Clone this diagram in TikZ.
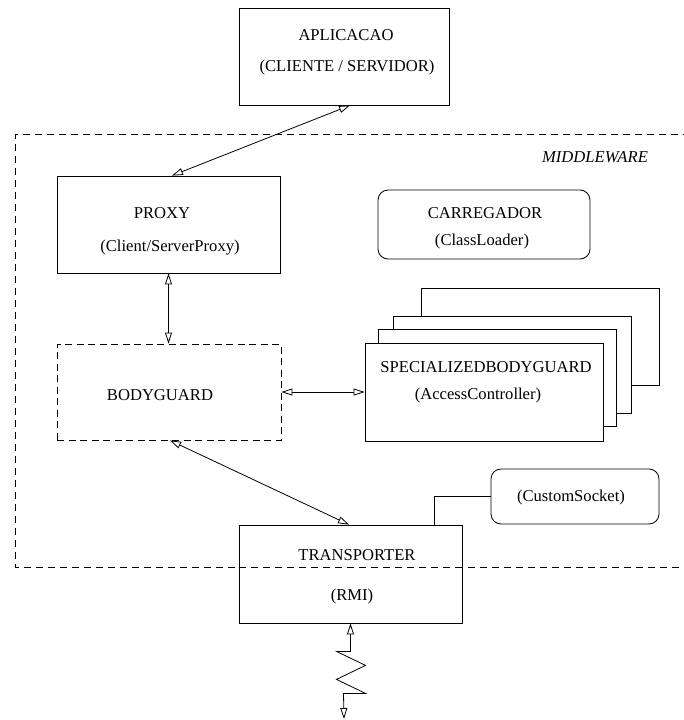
\documentclass[tikz,border=0pt]{standalone}
\usepackage{fontspec}
\setmainfont{Liberation Serif}
\usetikzlibrary{arrows.meta,calc}
\begin{document}
\begin{tikzpicture}[x=1pt,y=-1pt,
  font=\fontsize{16.6}{20}\selectfont,
  box/.style={draw, line width=0.8pt, inner sep=0pt, fill=white},
  rbox/.style={box, rounded corners=10pt},
  dbox/.style={draw, line width=0.8pt, inner sep=0pt, dash pattern=on 7pt off 4.5pt},
  lbl/.style={inner sep=0pt, anchor=center},
  conn/.style={line width=0.8pt, {Triangle[open,length=11pt,width=7pt]}-{Triangle[open,length=11pt,width=7pt]}},
  wire/.style={line width=0.8pt}]
\useasboundingbox (0,0) rectangle (683,720);

% middleware frame (open on the right)
\draw[line width=0.8pt, dash pattern=on 7pt off 5pt]
  (690,134) -- (15.5,134) -- (15.5,567) -- (690,567);
\node[lbl, font=\fontsize{16.6}{20}\selectfont\itshape] (mw) at (595,157) {MIDDLEWARE};

% boxes
\node[box, minimum width=210pt, minimum height=97pt] (apl) at (344,56.5) {};
\node[lbl] (apl1) at (346,35) {APLICACAO};
\node[lbl] (apl2) at (347,68) {(CLIENTE / SERVIDOR)};

\node[box, minimum width=223pt, minimum height=97pt] (proxy) at (168.5,224.5) {};
\node[lbl] (proxy1) at (162,213) {PROXY};
\node[lbl] (proxy2) at (170,248) {(Client/ServerProxy)};

\node[rbox, minimum width=212pt, minimum height=69pt] (carr) at (484,224.5) {};
\node[lbl] (carr1) at (485,213) {CARREGADOR};
\node[lbl] (carr2) at (482,242) {(ClassLoader)};

\node[dbox, minimum width=224pt, minimum height=96pt] (bg) at (169,392) {};
\node[lbl] (bg1) at (160,395) {BODYGUARD};

\node[box, minimum width=238pt, minimum height=97pt] (spec4) at (540,336.5) {};
\node[box, minimum width=238pt, minimum height=97pt] (spec3) at (512,364.5) {};
\node[box, minimum width=238pt, minimum height=97pt] (spec2) at (497.5,378) {};
\node[box, minimum width=238pt, minimum height=98pt] (spec) at (484,392) {};
\node[lbl] (spec1) at (486,367) {SPECIALIZEDBODYGUARD};
\node[lbl] (specb) at (478,396) {(AccessController)};

\node[box, minimum width=223pt, minimum height=98pt] (tr) at (350.5,574) {};
\node[lbl] (tr1) at (357,555) {TRANSPORTER};
\node[lbl] (tr2) at (352,597) {(RMI)};

\node[rbox, minimum width=168pt, minimum height=55pt] (sock) at (575,496.5) {};
\node[lbl] (sock1) at (571,498) {(CustomSocket)};

% re-draw the middleware bottom dashed line over the transporter box
\draw[line width=0.8pt, dash pattern=on 7pt off 5pt] (tr.west |- 0,567) -- (tr.east |- 0,567);

% connectors
\draw[conn] ([xshift=6pt]apl.south) -- ([xshift=3.5pt]proxy.north);
\draw[conn] (proxy.south) -- (proxy.south |- bg.north);
\draw[conn] (bg.east) -- (spec.west);
\draw[conn] ([xshift=1pt]bg.south) -- ([xshift=-1.5pt]tr.north);
\draw[wire] ([xshift=83.5pt]tr.north) |- (sock.west);

\coordinate (gnd) at (344,719);
\draw[conn, line join=miter] (tr.south) -- ++(0,28) -- ++(-14,0) -- ++(29,14) -- ++(-29,14)
  -- ++(29,14) -- ++(-22,0) -- (gnd);
\end{tikzpicture}
\end{document}
